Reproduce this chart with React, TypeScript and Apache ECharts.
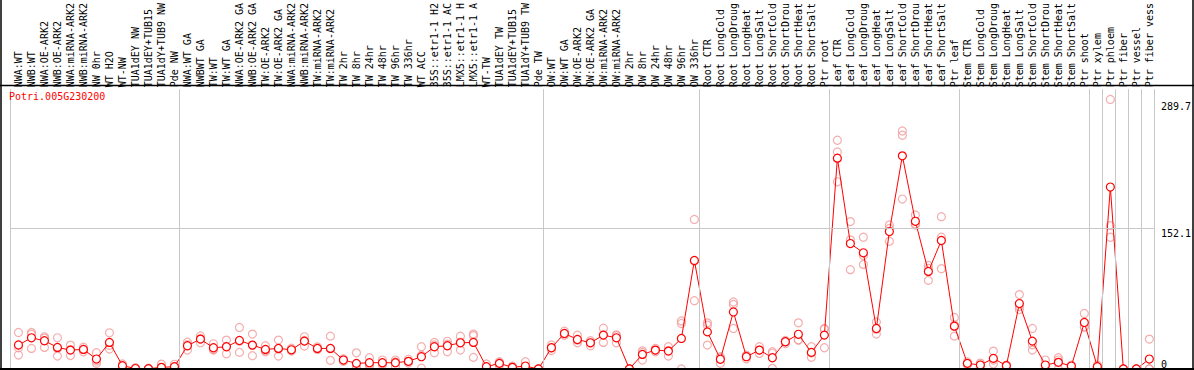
import { useEffect, useRef } from "react";
import * as echarts from "echarts";

const geneId = "Potri.005G230200";

const categories = [
  "NWA:WT", "NWB:WT", "NWA:OE-ARK2", "NWB:OE-ARK2", "NWA:miRNA-ARK2", "NWB:miRNA-ARK2", "NW 0hr", "WT H2O", "WT-NW", "TUA1dEY NW", "TUA1dEY+TUB15", "TUA1dY+TUB9 NW", "Pde NW",
  "NWA:WT GA", "NWBWT GA", "TW:WT", "TW:WT GA", "NWA:OE-ARK2 GA", "NWB:OE-ARK2 GA", "TW:OE-ARK2", "TW:OE-ARK2 GA", "NWA:miRNA-ARK2", "NWB:miRNA-ARK2", "TW:miRNA-ARK2", "TW:miRNA-ARK2", "TW 2hr", "TW 8hr", "TW 24hr", "TW 48hr", "TW 96hr", "TW 336hr", "WT ACC", "35S::etr1-1 H2", "35S::etr1-1 AC", "LMX5::etr1-1 H", "LMX5::etr1-1 A", "WT-TW", "TUA1dEY TW", "TUA1dEY+TUB15", "TUA1dY+TUB9 TW", "Pde TW",
  "OW:WT", "OW:WT GA", "OW:OE-ARK2", "OW:OE-ARK2 GA", "OW:miRNA-ARK2", "OW:miRNA-ARK2", "OW 2hr", "OW 8hr", "OW 24hr", "OW 48hr", "OW 96hr", "OW 336hr",
  "Root CTR", "Root LongCold", "Root LongDroug", "Root LongHeat", "Root LongSalt", "Root ShortCold", "Root ShortDrou", "Root ShortHeat", "Root ShortSalt", "Ptr root",
  "Leaf CTR", "Leaf LongCold", "Leaf LongDroug", "Leaf LongHeat", "Leaf LongSalt", "Leaf ShortCold", "Leaf ShortDrou", "Leaf ShortHeat", "Leaf ShortSalt", "Ptr leaf",
  "Stem CTR", "Stem LongCold", "Stem LongDroug", "Stem LongHeat", "Stem LongSalt", "Stem ShortCold", "Stem ShortDrou", "Stem ShortHeat", "Stem ShortSalt", "Ptr shoot",
  "Ptr xylem", "Ptr phloem", "Ptr fiber", "Ptr vessel", "Ptr fiber vess",
];

const meanValues = [
  26, 33.8, 30.6, 23.4, 20.5, 21.2, 10.8, 28.8, 3.6, 0.5, 0.3, 1.8, 2.5,
  25.2, 32.4, 23, 24.1, 30.9, 25.9, 21.2, 22.3, 20.8, 30.2, 22.3, 22.3, 9.7, 6.1, 6.8, 6.8, 6.8, 8.3, 13.3, 24.1, 25.2, 28.4, 28.8, 2.5, 6.1, 1.8, 3.2, 0,
  23, 38.5, 32, 28.4, 36.7, 33.8, 0, 15.8, 20.5, 19.4, 33.1, 117.6,
  40.2, 10.5, 61.8, 13.3, 20.5, 12.2, 29.5, 37.6, 18, 36.7,
  228.4, 135.9, 125.9, 43.9, 148.9, 230.9, 160, 105.7, 139.2, 46.4,
  6.1, 4.3, 11.5, 3.6, 70.9, 30.2, 4.3, 7.2, 3.2, 50.4,
  2.5, 197.1, 0, 0, 10.8,
];

const replicateA = [
  39.6, 39.6, 34.9, 33.8, 25.9, 23.7, 17.6, 39.2, 5.4, 1.5, 0.8, 5.3, 5.1,
  29, 35.9, 27.3, 31.3, 45, 37.8, 25.2, 31.3, 22.5, 34.9, 24, 35.6, 11, 17.5, 12.2, 9.7, 9.7, 10.5, 24.1, 28.8, 30, 35.6, 37.8, 5.4, 7.9, 3, 7.9, 0,
  26, 41, 36.7, 30.6, 44.2, 37, 0, 19.7, 22.3, 24.1, 52.1, 162,
  50, 13.3, 72.6, 15, 24.1, 18.7, 31, 50, 24.1, 43.9,
  247.8, 159.7, 142.7, 51, 156, 257.8, 166.9, 112.2, 165, 55.8,
  7.8, 6.4, 19.4, 4.3, 80.6, 43.9, 9.7, 12.2, 4.3, 60.1,
  4.3, 292, 0, 0, 32.4,
];

const replicateB = [
  23, 37.8, 33.5, 22.4, 21, 21.2, 8.6, 25.6, 3.2, 0, 0, 0.1, 2,
  26.5, 32.8, 21.2, 24.5, 30, 25.5, 19.8, 21.6, 20.5, 30.9, 22, 22, 9.7, 0.8, 5, 6, 7.7, 8, 15, 26, 27, 29, 36, 2, 6.5, 2, 1.5, 0,
  23, 38, 31, 28.4, 37, 36, 0, 18, 20.5, 20, 49.3, 117,
  47.5, 12, 70, 14, 20.5, 17, 30, 31.3, 17.3, 43,
  235.2, 139.9, 123, 43, 152.3, 253.2, 157.2, 109, 142.7, 47.8,
  6, 4.3, 9.7, 4, 67.7, 26.2, 2.5, 9.7, 3.2, 45.6,
  2.5, 155.3, 0, 0, 0,
];

const replicateC = [
  15.1, 22.3, 23.4, 14, 14.6, 18.7, 6.1, 21.6, 2.2, 0, 0, 0, 0.4,
  20.5, 28.5, 20.5, 16.5, 18, 14.4, 18.7, 14, 19.4, 24.8, 21, 9.4, 8.4, 0, 3.2, 4.7, 3, 6.4, 0.8, 17.6, 18.7, 20.5, 12.6, 0, 4, 0.4, 0.2, 0,
  20, 36.5, 28.3, 25.2, 28.8, 28.4, 0, 9.7, 18.7, 14, 0, 74,
  25.9, 6.1, 43.9, 11, 16.9, 0.7, 27.5, 31.5, 12.6, 23,
  202.8, 107.6, 113.3, 37.8, 138.4, 184.1, 156, 96, 108.6, 35.6,
  4.3, 2.2, 5.4, 2.2, 64.4, 20.5, 0.7, 0, 2.2, 45.5,
  0.7, 142.7, 0, 0, 0,
];

const groupBoundaries = [0, 13, 41, 53, 63, 73, 83, 84, 85, 86, 87, 88];
const gridLineValue = 152.1;
const yLabelsHanging = [152.1, 289.7];
const yLabelsResting = [0];

export default function App() {
  const ref = useRef<HTMLDivElement>(null);

  useEffect(() => {
    if (!ref.current) return;
    const chart = echarts.init(ref.current, null, { renderer: "svg" });
    const mono = "'DejaVu Sans Mono', monospace";
    const pointOffset = 0.65;
    const yMax = 303;

    const labelPositions = categories.map((_, i) => i + pointOffset);
    const meanData = meanValues.map((v, i) => [i + pointOffset, v]);
    const repData: number[][] = [];
    [replicateA, replicateB, replicateC].forEach((arr) => {
      arr.forEach((v, i) => repData.push([i + pointOffset, v]));
    });

    const grey = "#c8c8c8";

    chart.setOption({
      animation: false,
      title: {
        text: geneId,
        left: 9,
        top: 91,
        padding: 0,
        textStyle: { fontFamily: mono, fontSize: 10, color: "#ff0000", fontWeight: "normal" },
      },
      grid: { left: 10, right: 38, top: 85, bottom: 1, containLabel: false },
      xAxis: [
        {
          type: "value",
          min: 0,
          max: categories.length,
          position: "top",
          axisLine: { show: false },
          splitLine: { show: false },
          axisLabel: {
            show: true,
            customValues: labelPositions,
            rotate: 90,
            margin: 2,
            fontFamily: mono,
            fontSize: 10,
            color: "#000",
            showMinLabel: true,
            showMaxLabel: true,
            hideOverlap: false,
            formatter: (v: number) => categories[Math.round(v - pointOffset)] ?? "",
          },
          axisTick: {
            show: true,
            inside: false,
            length: 85,
            customValues: groupBoundaries,
            lineStyle: { color: grey, width: 1 },
          },
        },
      ],
      yAxis: [
        {
          type: "value",
          min: 0,
          max: yMax,
          position: "right",
          axisLine: { show: false },
          splitLine: { show: false },
          axisTick: {
            show: true,
            inside: false,
            length: 7,
            customValues: [gridLineValue],
            lineStyle: { color: grey, width: 1 },
          },
          axisLabel: {
            customValues: yLabelsHanging,
            verticalAlign: "top",
            margin: 7,
            fontFamily: mono,
            fontSize: 10,
            color: "#000",
            formatter: (v: number) => String(v),
          },
        },
        {
          type: "value",
          min: 0,
          max: yMax,
          position: "right",
          axisLine: { show: false },
          splitLine: { show: false },
          axisTick: { show: false },
          axisLabel: {
            customValues: yLabelsResting,
            verticalAlign: "bottom",
            margin: 7,
            fontFamily: mono,
            fontSize: 10,
            color: "#000",
            formatter: (v: number) => String(v),
          },
        },
      ],
      graphic: [
        { type: "line", shape: { x1: 0, y1: 85.5, x2: 1194, y2: 85.5 }, style: { stroke: "#000", lineWidth: 1.5 }, z: 100 },
        { type: "line", shape: { x1: 1, y1: 0, x2: 1, y2: 370 }, style: { stroke: "#000", lineWidth: 1.5 }, z: 100 },
        { type: "line", shape: { x1: 1193, y1: 0, x2: 1193, y2: 370 }, style: { stroke: "#000", lineWidth: 1.5 }, z: 100 },
        { type: "line", shape: { x1: 0, y1: 369, x2: 1194, y2: 369 }, style: { stroke: "#000", lineWidth: 2 }, z: 100 },
      ],
      series: [
        {
          type: "scatter",
          xAxisIndex: 0,
          yAxisIndex: 0,
          data: repData,
          symbol: "circle",
          symbolSize: 8,
          z: 1,
          itemStyle: { color: "rgba(0,0,0,0)", borderColor: "#f09a9a", borderWidth: 1.2 },
          markLine: {
            silent: true,
            symbol: ["none", "none"],
            label: { show: false },
            lineStyle: { color: grey, type: "solid", width: 1 },
            data: [
              ...groupBoundaries.map((b) => ({ xAxis: b })),
              { yAxis: gridLineValue },
            ],
          },
        },
        {
          type: "line",
          xAxisIndex: 0,
          yAxisIndex: 0,
          data: meanData,
          symbol: "circle",
          symbolSize: 8,
          showAllSymbol: true,
          z: 3,
          lineStyle: { color: "#ff0000", width: 1 },
          itemStyle: { color: "#ffffff", borderColor: "#ff0000", borderWidth: 1.2 },
        },
      ],
    });

    return () => chart.dispose();
  }, []);

  return (
    <div
      ref={ref}
      style={{ position: "fixed", left: 0, top: 0, width: 1194, height: 370, background: "#fff" }}
    />
  );
}
